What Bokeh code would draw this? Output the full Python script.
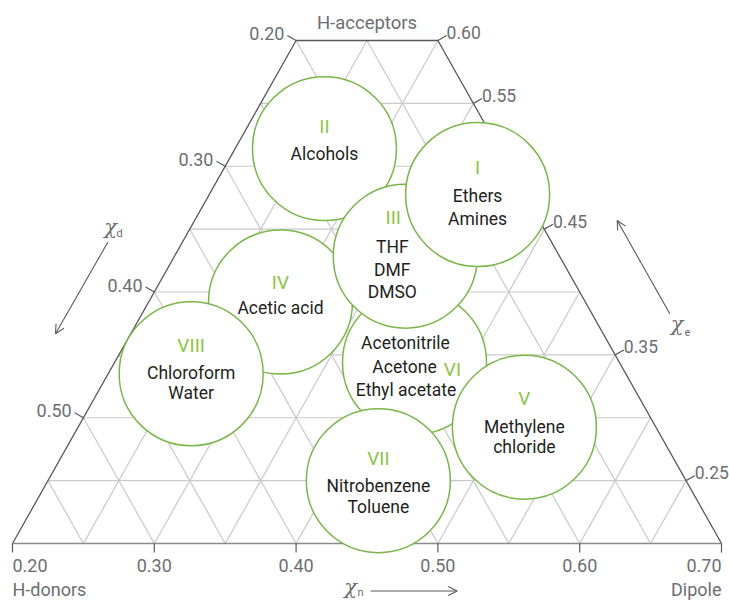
import numpy as np
from bokeh.plotting import figure
from bokeh.models import Range1d, Arrow, OpenHead
from bokeh.core.properties import value
from bokeh.embed import file_html
from bokeh.resources import INLINE

# ---------------- data ----------------
xn_ticks = [0.20, 0.30, 0.40, 0.50, 0.60, 0.70]
xd_ticks = [0.20, 0.30, 0.40, 0.50]
xe_ticks = [0.60, 0.55, 0.45, 0.35, 0.25]
xn_tick_labels = ["0.20", "0.30", "0.40", "0.50", "0.60", "0.70"]
xd_tick_labels = ["0.20", "0.30", "0.40", "0.50"]
xe_tick_labels = ["0.60", "0.55", "0.45", "0.35", "0.25"]

groups = ["II", "IV", "VI", "III", "I", "VIII", "V", "VII"]
group_xn = [0.420, 0.389, 0.4835, 0.477, 0.528, 0.326, 0.561, 0.458]
group_xd = [0.286, 0.408, 0.456, 0.3715, 0.3225, 0.465, 0.5075, 0.550]
group_solvents = [
    ["Alcohols"],
    ["Acetic acid"],
    ["Acetonitrile", "Acetone", "Ethyl acetate"],
    ["THF", "DMF", "DMSO"],
    ["Ethers", "Amines"],
    ["Chloroform", "Water"],
    ["Methylene", "chloride"],
    ["Nitrobenzene", "Toluene"],
]

# ---------------- layout (screen px offsets) ----------------
numeral_offset = {
    "II": (0, -22), "IV": (0, -20), "VI": (38, 7), "III": (-12, -39),
    "I": (0, -27), "VIII": (0, -28.5), "V": (0, -28.5), "VII": (0, -22),
}
solvent_offsets = {
    "II": [(0, 5.5)],
    "IV": [(0, 6)],
    "VI": [(-9, -19), (-10, 5), (-8.5, 28)],
    "III": [(-13, -9), (-13, 14), (-13, 36)],
    "I": [(0, 1), (0, 24)],
    "VIII": [(0, -1), (0, 19)],
    "V": [(0, 0), (0, 20)],
    "VII": [(0, 5), (0, 26)],
}

FONT = value("Roboto")
GREY_TXT = "#6d6e71"
DARK_TXT = "#231f20"
GREEN = "#7ab648"
GREEN_TXT = "#8cc63f"
EDGE = "#58595b"
GRID = "#c9c9c9"

SX = 1418.0   # px per unit (horizontal)
SY = 1257.5   # px per unit (vertical)
W, H = 729, 600
x0 = 0.2 - 12 / SX
y_top = 0.2 - 40 / SY

p = figure(width=W, height=H,
           x_range=Range1d(x0, x0 + W / SX),
           y_range=Range1d(y_top + H / SY, y_top),
           output_backend="svg", toolbar_location=None, min_border=0,
           x_axis_location=None, y_axis_location=None)
p.grid.visible = False
p.outline_line_color = None
p.background_fill_color = "white"
p.border_fill_color = "white"

def U(px):
    return 0.2 + (px - 12) / SX

def D(py):
    return 0.2 + (py - 40) / SY

# ---------------- grid ----------------
step = 0.05
xs, ys = [], []
for xd in np.arange(0.25, 0.5501, step):
    t = 0.6 - xd
    xs.append([0.2 + t / 2, 0.7 - t / 2]); ys.append([xd, xd])
for c in np.arange(0.25, 0.6501, step):
    e = max(0.2, c - 0.1)
    xs.append([c, c + (0.6 - e) / 2]); ys.append([0.6, e])
    e = max(0.2, 0.8 - c)
    xs.append([c, c - (0.6 - e) / 2]); ys.append([0.6, e])
p.multi_line(xs, ys, line_color=GRID, line_width=1.2)

# edges
p.line([0.2, 0.4, 0.5, 0.7], [0.6, 0.2, 0.2, 0.6], line_color=EDGE, line_width=1.3)
p.line([0.2, 0.7], [0.6, 0.6], line_color="#8a8a8a", line_width=1.3)

# ---------------- ticks ----------------
tl = 10.0
nx, ny = 0.8715, 0.4904
# bottom
p.segment(x0=xn_ticks, y0=[0.6] * len(xn_ticks), x1=xn_ticks,
          y1=[0.6 + 9 / SY] * len(xn_ticks), line_color=EDGE, line_width=1.2)
# left (xd)
lx = [0.2 + (0.6 - v) / 2 for v in xd_ticks]
lx1 = [x - tl * nx / SX for x in lx]
ly1 = [v - tl * ny / SY for v in xd_ticks]
p.segment(x0=lx, y0=xd_ticks, x1=lx1, y1=ly1, line_color=EDGE, line_width=1.2)
# right (xe)
r_xd = [0.8 - v for v in xe_ticks]
rx = [0.7 - (0.6 - d) / 2 for d in r_xd]
rx1 = [x + tl * nx / SX for x in rx]
ry1 = [d - tl * ny / SY for d in r_xd]
p.segment(x0=rx, y0=r_xd, x1=rx1, y1=ry1, line_color=EDGE, line_width=1.2)

# tick labels
TS = "18px"
p.text(x=lx1, y=ly1, text=xd_tick_labels, x_offset=-3, y_offset=-2,
       text_align="right", text_baseline="middle", text_font=FONT,
       text_font_size=TS, text_color=GREY_TXT)
p.text(x=rx1, y=ry1, text=xe_tick_labels, x_offset=0, y_offset=-3,
       text_align="left", text_baseline="middle", text_font=FONT,
       text_font_size="17.5px", text_color=GREY_TXT)
aligns = ["left"] + ["center"] * (len(xn_ticks) - 2) + ["right"]
p.text(x=xn_ticks, y=[0.6] * len(xn_ticks), text=xn_tick_labels, y_offset=22,
       text_align=aligns, text_baseline="middle", text_font=FONT,
       text_font_size=TS, text_color=GREY_TXT)

# corner names
p.text(x=[0.2], y=[0.6], text=["H-donors"], y_offset=46, text_align="left",
       text_baseline="middle", text_font=FONT, text_font_size="18px", text_color=GREY_TXT)
p.text(x=[0.7], y=[0.6], text=["Dipole"], y_offset=46, text_align="right",
       text_baseline="middle", text_font=FONT, text_font_size="18px", text_color=GREY_TXT)
p.text(x=[0.45], y=[0.2], text=["H-acceptors"], y_offset=-18, text_align="center",
       text_baseline="middle", text_font=FONT, text_font_size="18.5px", text_color=GREY_TXT)

# ---------------- axis arrows ----------------
for (xa, ya, xb, yb) in [(U(107.3), D(241.7), U(55), D(333.3)),
                         (U(669.3), D(313.3), U(616.7), D(220)),
                         (U(370), D(590.5), U(456.7), D(590.5))]:
    p.add_layout(Arrow(end=OpenHead(size=9, line_color=EDGE, line_width=1.1),
                       x_start=xa, y_start=ya, x_end=xb, y_end=yb,
                       line_color=EDGE, line_width=1.1))

p.text(x=[U(110), U(676.7), U(350)], y=[D(226), D(323), D(586)],
       text=["χ", "χ", "χ"], text_align="center", text_baseline="middle",
       text_font=value("DejaVu Serif"), text_font_style="italic",
       text_font_size="21px", text_color=GREY_TXT)
p.text(x=[U(119), U(687), U(360)], y=[D(233), D(331), D(592)],
       text=["d", "e", "n"], text_align="center", text_baseline="middle",
       text_font=FONT, text_font_size="11px", text_color=GREY_TXT)

# ---------------- circles ----------------
p.circle(x=group_xn, y=group_xd, radius=72, radius_units="screen",
         fill_color="white", line_color=GREEN, line_width=1.5)

nx_, ny_, nt, nox, noy = [], [], [], [], []
sx_, sy_, st, sox, soy = [], [], [], [], []
for g, xv, yv, sol in zip(groups, group_xn, group_xd, group_solvents):
    ox, oy = numeral_offset[g]
    nx_.append(xv); ny_.append(yv); nt.append(g); nox.append(ox); noy.append(oy)
    for s, (a, b) in zip(sol, solvent_offsets[g]):
        sx_.append(xv); sy_.append(yv); st.append(s); sox.append(a); soy.append(b)

p.text(x=nx_, y=ny_, text=nt, x_offset=nox, y_offset=noy, text_align="center",
       text_baseline="middle", text_font=FONT, text_font_size="19px",
       text_color=GREEN_TXT)
p.text(x=sx_, y=sy_, text=st, x_offset=sox, y_offset=soy, text_align="center",
       text_baseline="middle", text_font=FONT, text_font_size="17.5px",
       text_color=DARK_TXT)

open("out.html", "w").write(file_html(p, INLINE))
